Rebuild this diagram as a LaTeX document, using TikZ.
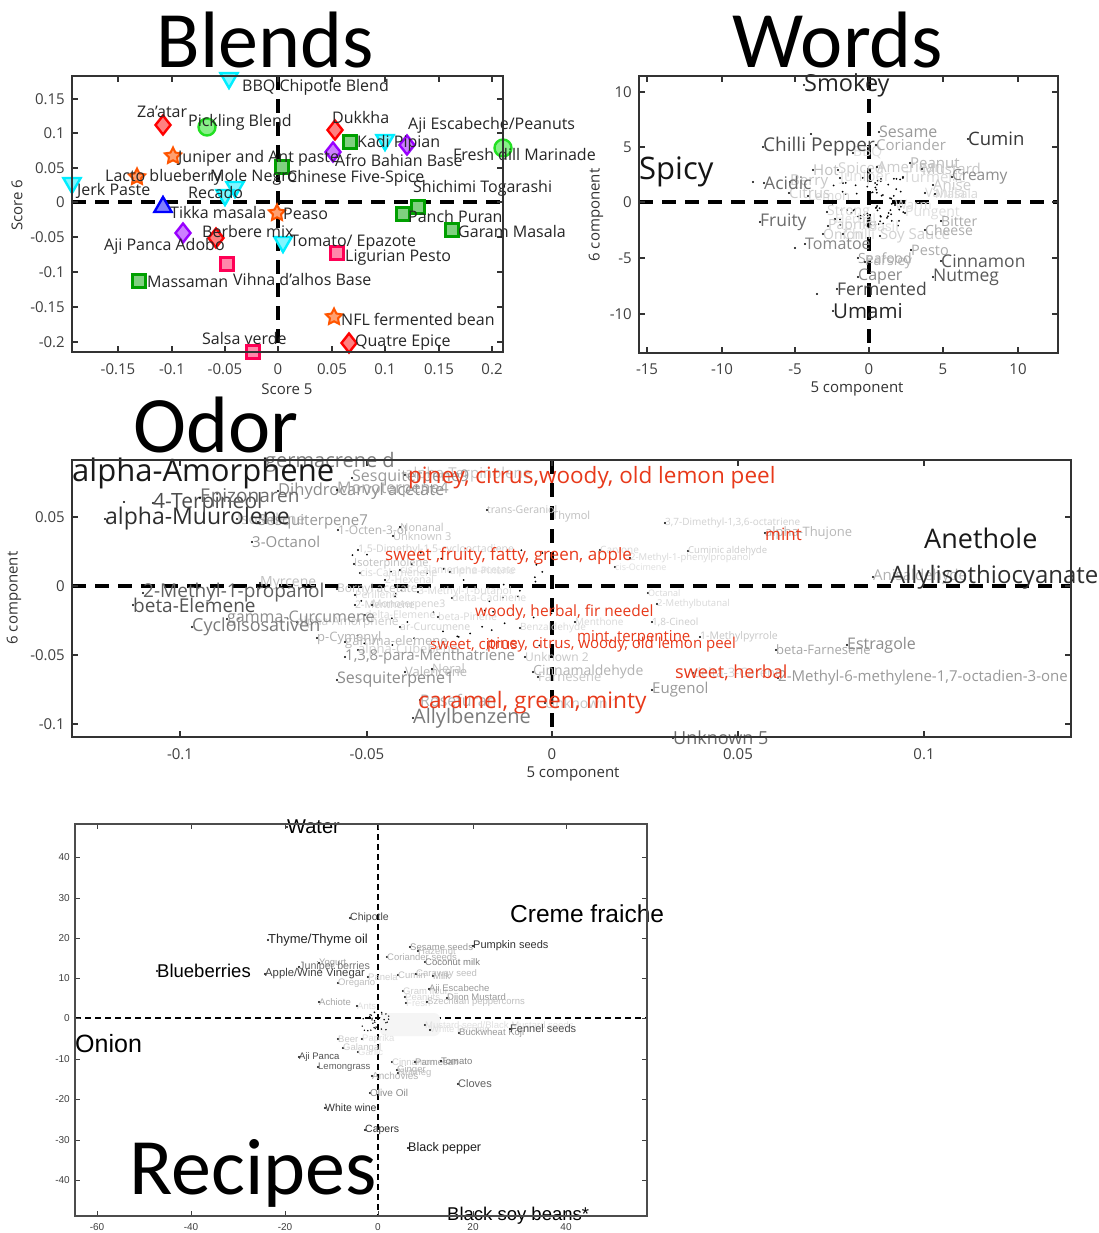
\documentclass[tikz,border=0pt]{standalone}
\usepackage{fontspec}
\setmainfont{Open Sans}
\newfontfamily\calib{Carlito}
\newfontfamily\arialf{Liberation Sans}
\usetikzlibrary{shapes.geometric}
\newcounter{lc}
\definecolor{cyS}{HTML}{00EEFF}\definecolor{cyF}{HTML}{80F6FF}
\definecolor{rdS}{HTML}{FF0000}\definecolor{rdF}{HTML}{FF8080}
\definecolor{gnS}{HTML}{00A000}\definecolor{gnF}{HTML}{80D080}
\definecolor{pkS}{HTML}{FF0055}\definecolor{pkF}{HTML}{FF88AA}
\definecolor{orS}{HTML}{FF5500}\definecolor{orF}{HTML}{FFA070}
\definecolor{puS}{HTML}{9900FF}\definecolor{puF}{HTML}{CC80FF}
\definecolor{blS}{HTML}{0000FF}\definecolor{blF}{HTML}{8080FF}
\definecolor{lmS}{HTML}{22E022}\definecolor{lmF}{HTML}{88F088}
\definecolor{odred}{HTML}{E8391A}
\newcommand\fsz[1]{\fontsize{#1}{#1}\selectfont}
\newcommand\ptlab[5]{\stepcounter{lc}\fill (#1,#2) circle (1.1pt);\node[lbl,text=#4] (n\arabic{lc}) at (#1,#2) {\fsz{#3}#5};}
\newcommand\txlab[5]{\stepcounter{lc}\node[lbl,text=#4] (n\arabic{lc}) at (#1,#2) {\fsz{#3}#5};}
\newcommand\mrk[3]{\stepcounter{lc}\node[#1] (m\arabic{lc}) at (#2,#3) {};}
\tikzset{
  lbl/.style={anchor=west,inner sep=0pt},
  frame/.style={draw=black!80,line width=2pt},
  dashax/.style={line width=3.2pt,dash pattern=on 14pt off 9pt},
  thindash/.style={line width=1.1pt,dash pattern=on 6pt off 4pt},
  tick/.style={draw=black!80,line width=2pt},
  ttl/.style={inner sep=0pt,font=\calib\fsz{80}},
  mbase/.style={inner sep=0pt,line width=2.4pt},
  tdn/.style={mbase,regular polygon,regular polygon sides=3,shape border rotate=180,minimum size=20pt,draw=cyS,fill=cyF},
  btri/.style={mbase,regular polygon,regular polygon sides=3,minimum size=20pt,draw=blS,fill=blF},
  rdia/.style={mbase,diamond,minimum width=16pt,minimum height=20pt,draw=rdS,fill=rdF},
  pdia/.style={mbase,diamond,minimum width=16pt,minimum height=20pt,draw=puS,fill=puF},
  gsq/.style={mbase,rectangle,minimum size=13pt,draw=gnS,fill=gnF},
  psq/.style={mbase,rectangle,minimum size=13pt,draw=pkS,fill=pkF},
  gcir/.style={mbase,circle,minimum size=17pt,draw=lmS,fill=lmF},
  ostar/.style={mbase,star,star points=5,star point ratio=2,minimum size=17pt,line width=2pt,draw=orS,fill=orF},
  tkl/.style={inner sep=0pt,text=black!75,font=\fsz{15}},
  axl/.style={inner sep=0pt,text=black!80,font=\fsz{15}},
}
\begin{document}
\begin{tikzpicture}[x=1pt,y=-1pt]
\useasboundingbox[fill=white] (0,0) rectangle (1099,1233);

%================ BLENDS =================
\node[ttl] (tB) at (265,40) {Blends};
\draw[dashax] (278,76) -- (278,352);
\draw[dashax] (72,202) -- (503,202);
\foreach \x in {118,172,225,278,332,385,439,492}{\draw[tick] (\x,352) -- (\x,346); \draw[tick] (\x,76) -- (\x,82);}
\foreach \y in {99,133,168,202,237,272,307,342}{\draw[tick] (72,\y) -- (78,\y); \draw[tick] (503,\y) -- (497,\y);}
\foreach \x/\t in {118/-0.15,172/-0.1,225/-0.05,278/0,332/0.05,385/0.1,439/0.15,492/0.2}{\node[tkl] (bx\x) at (\x,369) {\t};}
\foreach \y/\t in {99/0.15,133/0.1,168/0.05,202/0,237/-0.05,272/-0.1,307/-0.15,342/-0.2}{\node[tkl,anchor=east] (by\y) at (65,\y) {\t};}
\node[axl] (bxl) at (287,389) {Score 5};
\node[axl,rotate=90] (byl) at (17,205) {Score 6};
% markers
\mrk{tdn}{229}{78}
\mrk{rdia}{163}{125}
\mrk{gcir}{207}{127}
\mrk{ostar}{173}{156}
\mrk{ostar}{137}{177}
\mrk{tdn}{72}{183}
\mrk{tdn}{235}{187}
\mrk{tdn}{225}{195}
\mrk{btri}{163}{207}
\mrk{pdia}{183}{233}
\mrk{rdia}{216}{238}
\mrk{psq}{227}{264}
\mrk{gsq}{139}{281}
\mrk{psq}{253}{352}
\mrk{ostar}{277}{213}
\mrk{tdn}{283}{242}
\mrk{rdia}{335}{130}
\mrk{gsq}{350}{142}
\mrk{tdn}{385}{140}
\mrk{pdia}{407}{145}
\mrk{pdia}{333}{152}
\mrk{gcir}{503}{148}
\mrk{gsq}{282}{167}
\mrk{gsq}{418}{207}
\mrk{gsq}{403}{214}
\mrk{gsq}{452}{230}
\mrk{psq}{337}{253}
\mrk{ostar}{334}{317}
\mrk{rdia}{349}{343}
% labels
\txlab{242}{87}{16}{black!85}{BBQ Chipotle Blend}
\txlab{137}{112}{16}{black!85}{Za'atar}
\txlab{188}{122}{16}{black!85}{Pickling Blend}
\txlab{178}{158}{16}{black!85}{Juniper and Ant paste}
\txlab{105}{177}{16}{black!85}{Lacto blueberry}
\txlab{77}{191}{16}{black!85}{Jerk Paste}
\txlab{210}{177}{16}{black!85}{Mole Negro}
\txlab{287}{178}{16}{black!85}{Chinese Five-Spice}
\txlab{188}{193}{16}{black!85}{Recado}
\txlab{170}{213}{16}{black!85}{Tikka masala}
\txlab{104}{246}{16}{black!85}{Aji Panca Adobo}
\txlab{202}{232}{16}{black!85}{Berbere mix}
\txlab{233}{279}{16}{black!85}{Vihna d'alhos Base}
\txlab{147}{282}{16}{black!85}{Massaman}
\txlab{202}{338}{16}{black!85}{Salsa verde}
\txlab{283}{214}{16}{black!85}{Peaso}
\txlab{290}{243}{16}{black!85}{Tomato/ Epazote}
\txlab{332}{118}{16}{black!85}{Dukkha}
\txlab{357}{143}{16}{black!85}{Kadi Pipian}
\txlab{335}{160}{16}{black!85}{Afro Bahian Base}
\txlab{408}{125}{16}{black!85}{Aji Escabeche/Peanuts}
\txlab{453}{155}{16}{black!85}{Fresh dill Marinade}
\txlab{413}{188}{16}{black!85}{Shichimi Togarashi}
\txlab{408}{217}{16}{black!85}{Panch Puran}
\txlab{458}{231}{16}{black!85}{Garam Masala}
\txlab{345}{258}{16}{black!85}{Ligurian Pesto}
\txlab{341}{319}{16}{black!85}{NFL fermented bean}
\txlab{355}{343}{16}{black!85}{Quatre Epice}
\draw[frame] (72,76) rectangle (503,352);

%================ WORDS =================
\node[ttl] (tW) at (838,40) {Words};
\draw[dashax] (869,76) -- (869,353);
\draw[dashax] (639,202) -- (1058,202);
\foreach \x in {647,722,795,869,943,1018}{\draw[tick] (\x,353) -- (\x,347); \draw[tick] (\x,76) -- (\x,82);}
\foreach \y in {92,147,202,258,314}{\draw[tick] (639,\y) -- (645,\y); \draw[tick] (1058,\y) -- (1052,\y);}
\foreach \x/\t in {647/-15,722/-10,795/-5,869/0,943/5,1018/10}{\node[tkl] (wx\x) at (\x,369) {\t};}
\foreach \y/\t in {92/10,147/5,202/0,258/-5,314/-10}{\node[tkl,anchor=east] (wy\y) at (632,\y) {\t};}
\node[axl] (wxl) at (857,389) {5 component};
\node[axl,rotate=90] (wyl) at (596,215) {6 component};
\pgfmathsetseed{11}
\foreach \i in {1,...,75}{\pgfmathsetmacro\rx{868+36*rand}\pgfmathsetmacro\ry{203+26*rand}\fill (\rx,\ry) circle (1pt);}
\ptlab{853}{153}{14}{black!12}{BBQ}
\ptlab{840}{178}{15}{black!12}{Juniper}
\ptlab{838}{170}{15}{black!18}{Spiced}
\ptlab{813}{170}{15}{black!25}{Hot}
\ptlab{877}{167}{15}{black!20}{American}
\ptlab{903}{177}{15}{black!15}{Turmeric}
\ptlab{910}{163}{15}{black!28}{Peanut}
\ptlab{922}{169}{15}{black!22}{Mustard}
\ptlab{933}{185}{15}{black!20}{Anise}
\ptlab{925}{193}{13}{black!15}{Vanilla}
\ptlab{935}{194}{13}{black!15}{Masala}
\ptlab{808}{196}{13}{black!15}{Lemon}
\ptlab{790}{182}{15}{black!22}{Berry}
\ptlab{789}{193}{15}{black!20}{Citrus}
\ptlab{827}{212}{14}{black!15}{Strong}
\ptlab{835}{219}{13}{black!12}{Herbal}
\ptlab{905}{213}{14}{black!13}{Pungent}
\ptlab{895}{205}{13}{black!12}{Warm}
\ptlab{828}{226}{14}{black!20}{Paprika}
\ptlab{823}{234}{14}{black!20}{Onion}
\ptlab{843}{234}{14}{black!15}{Chilli}
\ptlab{868}{226}{14}{black!12}{Basil}
\ptlab{880}{236}{15}{black!18}{Soy Sauce}
\ptlab{879}{132}{16}{black!40}{Sesame}
\ptlab{876}{145}{15}{black!33}{Coriander}
\ptlab{804}{85}{23.5}{black!85}{Smokey}
\txlab{639}{172}{31}{black!92}{Spicy}
\ptlab{763}{147}{19}{black!70}{Chilli Pepper}
\ptlab{968}{139}{18.5}{black!78}{Cumin}
\ptlab{952}{177}{15.5}{black!45}{Creamy}
\ptlab{764}{183}{17.5}{black!58}{Acidic}
\ptlab{760}{222}{17.5}{black!58}{Fruity}
\ptlab{941}{221}{14}{black!33}{Bitter}
\ptlab{925}{230}{14}{black!33}{Cheese}
\ptlab{805}{244}{16}{black!48}{Tomatoe}
\ptlab{911}{250}{14.5}{black!33}{Pesto}
\ptlab{858}{258}{14}{black!35}{Seafood}
\ptlab{865}{262}{14}{black!30}{Parsley}
\ptlab{941}{261}{17.5}{black!65}{Cinnamon}
\ptlab{933}{277}{17.5}{black!65}{Nutmeg}
\ptlab{858}{277}{16}{black!45}{Caper}
\ptlab{837}{289}{17.5}{black!72}{Fermented}
\ptlab{833}{311}{20.5}{black!85}{Umami}
\fill (811,134) circle (1.1pt); \fill (753,182) circle (1.1pt); \fill (817,294) circle (1.1pt); \fill (795,248) circle (1.1pt);
\draw[frame] (639,76) rectangle (1058,353);

%================ ODOR =================
\node[ttl] (tO) at (216,425) {Odor};
\draw[dashax] (552,460) -- (552,737);
\draw[dashax] (72,586) -- (1071,586);
\foreach \x in {180,367,552,738,924}{\draw[tick] (\x,737) -- (\x,731); \draw[tick] (\x,460) -- (\x,466);}
\foreach \y in {517,586,655,724}{\draw[tick] (72,\y) -- (78,\y); \draw[tick] (1071,\y) -- (1065,\y);}
\foreach \x/\t in {180/-0.1,367/-0.05,552/0,738/0.05,924/0.1}{\node[tkl] (ox\x) at (\x,754) {\t};}
\foreach \y/\t in {517/0.05,586/0,655/-0.05,724/-0.1}{\node[tkl,anchor=east] (oy\y) at (65,\y) {\t};}
\node[axl] (oxl) at (573,774) {5 component};
\node[axl,rotate=90] (oyl) at (14,598) {6 component};
\pgfmathsetseed{5}
\foreach \i in {1,...,45}{\pgfmathsetmacro\rx{450+110*rand}\pgfmathsetmacro\ry{600+50*rand}\fill (\rx,\ry) circle (1pt);}
% light labels
\ptlab{405}{475}{15}{black!22}{alpha-Terpinolene}
\ptlab{237}{519}{15}{black!22}{Isoledene}
\ptlab{338}{530}{12}{black!30}{1-Octen-3-ol}
\ptlab{400}{527}{11}{black!25}{Nonanal}
\ptlab{393}{536}{11}{black!22}{Unknown 3}
\ptlab{358}{550}{10.5}{black!18}{1,5-Dimethyl-1,5-cyclooctadiene}
\ptlab{354}{564}{11}{black!25}{Isoterpinolene}
\ptlab{360}{573}{10.5}{black!15}{cis-Calamenene}
\ptlab{400}{570}{10.5}{black!15}{cis-Calamenene acetate}
\ptlab{450}{572}{10.5}{black!12}{alpha-Pinene}
\ptlab{385}{580}{10.5}{black!15}{2-Hexenal}
\ptlab{260}{583}{14}{black!25}{Myrcene}
\ptlab{337}{589}{12}{black!22}{Bornyl acetate}
\ptlab{355}{595}{10.5}{black!15}{Perillene}
\ptlab{418}{592}{10.5}{black!15}{3-Methyl-1-butanol}
\ptlab{355}{605}{10.5}{black!20}{2-Menthene}
\ptlab{372}{605}{10.5}{black!18}{Monoterpene3}
\ptlab{452}{598}{10.5}{black!15}{delta-Cadinene}
\ptlab{365}{615}{10.5}{black!15}{delta-Elemene}
\ptlab{438}{617}{10.5}{black!15}{beta-Pinene}
\ptlab{297}{622}{12}{black!20}{alpha-Amorphene}
\ptlab{317}{638}{13}{black!30}{p-Cymenyl}
\ptlab{400}{627}{10.5}{black!18}{ar-Curcumene}
\ptlab{345}{642}{13}{black!28}{gamma-elemene}
\ptlab{358}{650}{13}{black!18}{alpha-Cubebene}
\ptlab{405}{672}{13}{black!28}{Valencene}
\ptlab{432}{669}{13}{black!25}{Neral}
\ptlab{420}{700}{16}{black!30}{Rosefuran}
\ptlab{487}{510}{10.5}{black!25}{trans-Geraniol}
\ptlab{552}{517}{11}{black!25}{Thymol}
\ptlab{665}{523}{10}{black!18}{3,7-Dimethyl-1,3,6-octatriene}
\ptlab{765}{533}{13}{black!28}{alpha-Thujone}
\ptlab{600}{550}{10}{black!15}{Carvone}
\ptlab{688}{551}{9.5}{black!20}{Cuminic aldehyde}
\ptlab{630}{558}{9.5}{black!15}{2-Methyl-1-phenylpropanol}
\ptlab{615}{567}{9}{black!12}{cis-Ocimene}
\ptlab{648}{593}{9}{black!15}{Octanal}
\ptlab{657}{604}{9.5}{black!15}{2-Methylbutanal}
\ptlab{652}{622}{10}{black!20}{1,8-Cineol}
\ptlab{700}{637}{10.5}{black!22}{1-Methylpyrrole}
\ptlab{575}{622}{10}{black!15}{Menthone}
\ptlab{520}{628}{10}{black!15}{Benzaldehyde}
\ptlab{525}{657}{12}{black!22}{Unknown 2}
\ptlab{533}{672}{14}{black!30}{Cinnamaldehyde}
\ptlab{538}{677}{13}{black!22}{Farnesene}
\ptlab{545}{703}{14}{black!22}{Unknown 1}
\ptlab{693}{673}{13}{black!18}{delta-3-Carene}
\ptlab{873}{577}{15}{black!30}{Anisaldehyde}
% mid labels
\ptlab{265}{462}{20}{black!52}{germacrene d}
\ptlab{278}{491}{16.5}{black!45}{Dihydrocarvyl acetate}
\ptlab{337}{490}{16}{black!35}{Monoterpene4}
\ptlab{352}{478}{16}{black!40}{Sesquiterpene9}
\ptlab{258}{522}{15}{black!40}{Sesquiterpene7}
\ptlab{252}{542}{15}{black!42}{3-Octanol}
\ptlab{227}{619}{16}{black!45}{gamma-Curcumene}
\ptlab{192}{627}{18}{black!52}{Cycloisosativen}
\ptlab{345}{657}{15}{black!42}{1,3,8-para-Menthatriene}
\ptlab{337}{680}{16}{black!45}{Sesquiterpene1}
\ptlab{413}{718}{20}{black!52}{Allylbenzene}
\ptlab{652}{690}{15}{black!40}{Eugenol}
\ptlab{776}{650}{13}{black!35}{beta-Farnesene}
\ptlab{847}{645}{16}{black!45}{Estragole}
\ptlab{778}{678}{15}{black!40}{2-Methyl-6-methylene-1,7-octadien-3-one}
\ptlab{673}{738}{18}{black!58}{Unknown 5}
% dark labels
\txlab{72}{473}{31}{black!90}{alpha-Amorphene}
\ptlab{105}{519}{23}{black!82}{alpha-Muurolene}
\ptlab{153}{503}{21}{black!70}{4-Terpineol}
\ptlab{200}{498}{19}{black!58}{Epizonaren}
\ptlab{143}{593}{19}{black!62}{2-Methyl-1-propanol}
\ptlab{133}{605}{19}{black!68}{beta-Elemene}
\fill (124,502) circle (1.1pt);
\txlab{924}{538}{27}{black!90}{Anethole}
\txlab{890}{577}{24}{black!82}{Allylisothiocyanate}
% red
\txlab{408}{478}{22.5}{odred}{piney, citrus,woody, old lemon peel}
\txlab{385}{556}{17}{odred}{sweet ,fruity, fatty, green, apple}
\txlab{765}{534}{17}{odred}{mint}
\txlab{475}{612}{15.5}{odred}{woody, herbal, fir needel}
\txlab{577}{638}{15}{odred}{mint, terpentine}
\txlab{430}{645}{15}{odred}{sweet, citrus}
\txlab{487}{645}{15}{odred}{piney, citrus, woody, old lemon peel}
\txlab{675}{673}{18}{odred}{sweet, herbal}
\txlab{418}{703}{22.7}{odred}{caramel, green, minty}
\draw[frame] (72,460) rectangle (1071,737);

%================ RECIPES =================
\draw[thindash] (378,824) -- (378,1216);
\draw[thindash] (75,1018) -- (647,1018);
\foreach \x in {97,191,285,378,473,566}{\draw[draw=black!75,line width=1pt] (\x,1216) -- (\x,1211); \draw[draw=black!75,line width=1pt] (\x,824) -- (\x,829);}
\foreach \y in {857,898,938,978,1018,1059,1099,1140,1180}{\draw[draw=black!75,line width=1pt] (75,\y) -- (80,\y); \draw[draw=black!75,line width=1pt] (647,\y) -- (642,\y);}
\foreach \x/\t in {97/-60,191/-40,285/-20,378/0,473/20,566/40}{\node[inner sep=0pt,text=black!75,font=\arialf\fsz{10}] (rx\x) at (\x,1227) {\t};}
\foreach \y/\t in {857/40,898/30,938/20,978/10,1018/0,1059/-10,1099/-20,1140/-30,1180/-40}{\node[inner sep=0pt,anchor=east,text=black!75,font=\arialf\fsz{10}] (ry\y) at (70,\y) {\t};}
\begin{scope}[lbl/.append style={font=\arialf}]
\fill[black!4,rounded corners=6pt] (380,1013) rectangle (440,1036);
\pgfmathsetseed{3}
\foreach \i in {1,...,30}{\pgfmathsetmacro\rx{375+14*rand}\pgfmathsetmacro\ry{1022+10*rand}\fill (\rx,\ry) circle (0.8pt);}
\ptlab{319}{963}{9.5}{black!35}{Yogurt}
\ptlab{338}{983}{9.5}{black!25}{Oregano}
\ptlab{368}{977}{9.5}{black!18}{Panela}
\ptlab{319}{1002}{9.5}{black!35}{Achiote}
\ptlab{357}{1006}{9.5}{black!12}{Ants}
\ptlab{338}{1039}{9.5}{black!20}{Beer}
\ptlab{362}{1039}{9.5}{black!12}{Paprika}
\ptlab{343}{1048}{9.5}{black!20}{Galangal}
\ptlab{358}{1052}{9.5}{black!12}{Garlic}
\ptlab{372}{1076}{10}{black!30}{Anchovies}
\ptlab{370}{1093}{10}{black!45}{Olive Oil}
\ptlab{410}{947}{9.5}{black!40}{Sesame seeds}
\ptlab{418}{951}{9.5}{black!25}{Hazelnut}
\ptlab{387}{957}{9.5}{black!30}{Coriander seeds}
\ptlab{425}{962}{9.5}{black!50}{Coconut milk}
\ptlab{398}{975}{9.5}{black!25}{Cumin}
\ptlab{416}{974}{9.5}{black!25}{Caraway seed}
\ptlab{433}{976}{9.5}{black!30}{Milk}
\ptlab{403}{991}{9.5}{black!18}{Gram flour}
\ptlab{429}{989}{9.5}{black!40}{Aji Escabeche}
\ptlab{405}{997}{9.5}{black!15}{Peanuts}
\ptlab{447}{998}{9.5}{black!40}{Dijon Mustard}
\ptlab{406}{1003}{9.5}{black!12}{Fresh}
\ptlab{427}{1002}{9.5}{black!25}{Szechuan peppercorns}
\ptlab{425}{1025}{9.5}{black!12}{Mustard seed/Black Mustard seeds}
\ptlab{430}{1030}{9.5}{black!12}{White Pepper}
\ptlab{459}{1033}{9.5}{black!40}{Buckwheat Koji}
\ptlab{392}{1062}{9.5}{black!18}{Cinnamon}
\ptlab{415}{1062}{9.5}{black!40}{Parmesan}
\ptlab{441}{1061}{9.5}{black!50}{Tomato}
\ptlab{397}{1070}{9.5}{black!30}{Ginger}
\ptlab{398}{1073}{9.5}{black!25}{Nutmeg}
\ptlab{299}{967}{10.7}{black!55}{Juniper berries}
\ptlab{265}{974}{11.3}{black!75}{Apple/Wine Vinegar}
\ptlab{350}{918}{10.5}{black!72}{Chipotle}
\ptlab{268}{940}{13}{black!85}{Thyme/Thyme  oil}
\ptlab{299}{1057}{9.5}{black!70}{Aji Panca}
\ptlab{318}{1067}{9.5}{black!62}{Lemongrass}
\ptlab{325}{1108}{10.5}{black!80}{White wine}
\ptlab{365}{1130}{10.5}{black!80}{Capers}
\ptlab{408}{1148}{12.5}{black!88}{Black pepper}
\ptlab{473}{946}{11}{black!80}{Pumpkin seeds}
\ptlab{510}{1029}{11}{black!70}{Fennel seeds}
\ptlab{458}{1084}{11}{black!62}{Cloves}
\ptlab{287}{827}{20}{black}{Water}
\ptlab{157}{971}{18.5}{black}{Blueberries}
\txlab{75}{1044}{25}{black}{Onion}
\txlab{510}{914}{24.5}{black}{Creme fraiche}
\ptlab{447}{1216}{18.5}{black}{Black soy beans*}
\end{scope}
\draw[draw=black!70,line width=1.2pt] (75,824) rectangle (647,1216);
\node[ttl] (tR) at (253,1173) {Recipes};
\end{tikzpicture}
\end{document}
